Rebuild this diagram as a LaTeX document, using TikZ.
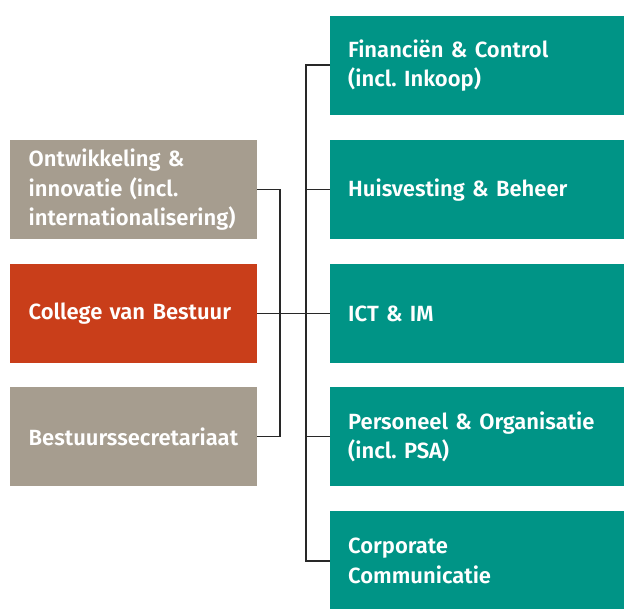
\documentclass[tikz,border=0pt]{standalone}
\usepackage{fontspec}
\setmainfont{Fira Sans}[BoldFont={Fira Sans SemiBold}]
\frenchspacing
\definecolor{teal1}{RGB}{0,148,134}
\definecolor{gray1}{RGB}{166,157,143}
\definecolor{red1}{RGB}{201,62,26}
\definecolor{line1}{RGB}{40,40,40}
\begin{document}
\begin{tikzpicture}[x=1pt,y=-1pt,
  box/.style={inner sep=0pt, minimum height=99pt, text=white, anchor=north west,
    align=left, font=\bfseries\fontsize{22}{29.5}\selectfont},
  lbox/.style={box, minimum width=247pt, text width=210pt, inner xsep=18.5pt},
  rbox/.style={box, minimum width=294pt, text width=258pt, inner xsep=18pt},
  conn/.style={draw=line1, line width=1.5pt}]
\useasboundingbox (0,0) rectangle (624,608);
\node[lbox, fill=gray1] (ont) at (10,140) {Ontwikkeling \&\\innovatie (incl.\\internationalisering)};
\node[lbox, fill=red1] (cvb) at (10,264) {College van Bestuur};
\node[lbox, fill=gray1] (bss) at (10,387) {Bestuurssecretariaat};
\node[rbox, fill=teal1] (fc) at (330,16) {Financiën \& Control\\(incl. Inkoop)};
\node[rbox, fill=teal1] (hb) at (330,140) {Huisvesting \& Beheer};
\node[rbox, fill=teal1] (ict) at (330,264) {ICT \& IM};
\node[rbox, fill=teal1] (po) at (330,387) {Personeel \& Organisatie\\(incl. PSA)};
\node[rbox, fill=teal1] (cc) at (330,511) {Corporate\\Communicatie};
\coordinate (lx) at (280,0);
\coordinate (rx) at (306,0);
\draw[conn] (ont.east) -- (ont.east -| lx) -- (bss.east -| lx) -- (bss.east);
\draw[conn] (cvb.east) -- (ict.west);
\draw[conn] (fc.west |- 0,65) -- (rx |- 0,65) -- (rx |- 0,561) -- (cc.west |- 0,561);
\draw[conn] (rx |- hb.west) -- (hb.west);
\draw[conn] (rx |- po.west) -- (po.west);
\end{tikzpicture}
\end{document}
